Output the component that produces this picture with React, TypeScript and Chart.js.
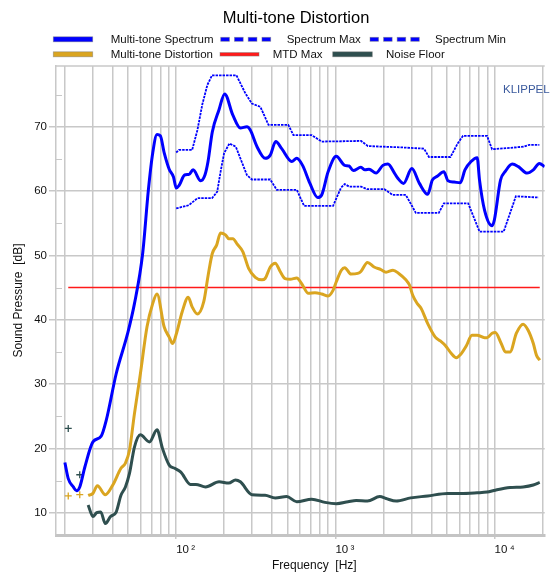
import React, { useEffect, useRef } from 'react';
import { Chart, registerables } from 'chart.js';

Chart.register(...registerables);

const FONT = '"Liberation Sans", Arial, Helvetica, sans-serif';
const GRID = '#c8c8c8';
const BLUE = '#0000ff';
const GOLD = '#daa520';
const RED = '#ff1a1a';
const SLATE = '#2f4f4f';

const chartTitle = 'Multi-tone Distortion';
const xAxisTitle = 'Frequency  [Hz]';
const yAxisTitle = 'Sound Pressure  [dB]';
const brandLabel = 'KLIPPEL';

const xTickValues = [20, 30, 40, 50, 60, 70, 80, 90, 100, 200, 300, 400, 500, 600, 700, 800, 900, 1000, 2000, 3000, 4000, 5000, 6000, 7000, 8000, 9000, 10000, 20000];
const xTickLabels: Record<number, string> = { 100: '10\u2009²', 1000: '10\u2009³', 10000: '10\u2009⁴' };
const yTickValues = [10, 15, 20, 25, 30, 35, 40, 45, 50, 55, 60, 65, 70, 75];
const yMajorStep = 10;

// Multi-tone Spectrum
const spectrumFreq = [20, 21, 22.6, 23.7, 24.8, 26.7, 30, 33.8, 36.4, 42, 49.6, 54.7, 61.6, 66.9, 71.2, 75.8, 79.5, 84.2, 90.4, 96.2, 100, 104.4, 113, 120.5, 127.7, 142.6, 151.6, 158.5, 168.6, 185.6, 201.6, 227, 253, 278, 292, 322, 362, 390, 422, 460, 532, 572, 622, 692, 774, 820, 900, 1013, 1144, 1219, 1294, 1446, 1534, 1627, 1800, 1987, 2137, 2349, 2467, 2680, 3020, 3370, 3800, 4060, 4360, 4800, 5100, 5560, 6090, 6510, 7110, 7770, 8040, 8650, 9640, 9960, 10890, 11700, 12900, 14100, 16000, 17500, 19100, 20600];
const spectrumDb = [17.8, 15.3, 14.0, 13.4, 14.0, 17.1, 21.0, 21.9, 24.4, 31.6, 37.9, 42.5, 50.3, 60.2, 65.9, 68.8, 68.6, 65.9, 63.4, 62.2, 60.5, 60.9, 62.5, 62.6, 63.3, 61.6, 62.5, 64.6, 69.2, 72.6, 75.1, 71.8, 69.8, 70.0, 69.5, 66.9, 65.1, 65.6, 67.7, 66.6, 64.6, 65.1, 64.0, 61.2, 59.0, 59.4, 63.0, 65.4, 64.0, 63.9, 63.2, 63.7, 63.3, 63.4, 62.8, 64.0, 64.2, 62.8, 62.0, 61.2, 63.5, 61.2, 59.5, 61.7, 62.3, 63.0, 61.6, 61.4, 61.3, 63.3, 64.6, 65.2, 61.7, 57.0, 54.6, 55.5, 61.7, 63.1, 64.2, 63.8, 62.8, 63.3, 64.3, 63.8];

// Spectrum Max
const specMaxFreq = [100, 104, 126, 136, 146, 157, 168, 239, 272, 299, 338, 380, 506, 545, 710, 820, 1450, 1600, 2580, 3600, 3870, 5280, 5860, 6330, 8960, 9640, 15200, 16500, 19100];
const specMaxDb = [66.0, 66.4, 66.4, 69.5, 73.5, 76.5, 78.0, 78.0, 75.2, 73.6, 73.1, 70.3, 70.3, 68.7, 68.7, 67.7, 67.8, 67.0, 66.8, 66.6, 65.3, 65.3, 67.4, 68.6, 68.6, 66.5, 66.9, 67.2, 67.2];

// Spectrum Min
const specMinFreq = [100, 120, 136, 168, 181, 190, 200, 216, 237, 278, 299, 390, 428, 572, 636, 967, 1083, 1144, 1220, 1450, 1580, 2030, 2230, 2290, 2770, 3200, 4460, 4800, 6820, 8040, 11400, 13600, 18900];
const specMinDb = [57.3, 57.8, 58.9, 58.9, 59.9, 63.0, 65.9, 67.4, 66.9, 62.5, 61.8, 61.8, 60.2, 60.2, 57.7, 57.7, 60.5, 61.1, 60.7, 60.7, 60.3, 60.3, 59.6, 59.4, 59.4, 56.6, 56.6, 58.1, 58.1, 53.7, 53.7, 59.2, 59.0];

// Multi-tone Distortion
const distFreq = [28, 30, 32, 35.9, 40, 45, 48, 50.9, 54.7, 59.6, 65.6, 71.2, 75.8, 84, 90.4, 95, 100.5, 109, 119, 126, 136, 149, 159, 168.6, 179.5, 190, 204, 214, 227, 241, 262, 285, 314, 346, 362, 390, 419, 450, 483, 520, 572, 614, 677, 744, 820, 900, 968, 1013, 1090, 1144, 1254, 1380, 1446, 1590, 1750, 1930, 2080, 2300, 2500, 2770, 2920, 3060, 3270, 3450, 3800, 4240, 4560, 4900, 5330, 5750, 6110, 6660, 7200, 7760, 8650, 8960, 9640, 10100, 11000, 11700, 12500, 13700, 15100, 16200, 17500, 18300, 19200];
const distDb = [12.7, 13.0, 14.2, 12.8, 14.3, 16.9, 17.7, 19.7, 25.4, 31.6, 38.9, 42.5, 44.0, 38.9, 37.3, 36.3, 37.9, 41.2, 43.5, 42.0, 40.9, 42.8, 47.0, 50.3, 51.6, 53.5, 53.2, 52.6, 52.6, 51.8, 50.6, 48.0, 46.6, 46.2, 46.4, 48.2, 48.8, 47.5, 46.4, 46.3, 46.5, 45.6, 44.1, 44.2, 44.0, 43.7, 44.6, 45.9, 47.7, 48.1, 47.1, 47.2, 47.5, 48.9, 48.2, 47.8, 47.4, 47.7, 47.2, 46.2, 45.4, 43.8, 42.5, 41.8, 39.4, 37.3, 36.7, 36.0, 34.8, 34.1, 34.6, 36.0, 37.6, 37.6, 37.2, 37.2, 37.9, 38.0, 36.3, 35.0, 35.0, 37.9, 39.3, 38.4, 36.3, 34.5, 33.7];
const distMarkFreq = [21, 24.8];
const distMarkDb = [12.6, 12.8];

// MTD Max
const mtdFreq = [21, 19200];
const mtdDb = [45, 45];

// Noise Floor
const noiseFreq = [28, 30, 31.7, 33.6, 35.9, 38.7, 42, 45, 48, 50.9, 54.7, 59.6, 67.9, 75.8, 82, 90.4, 98, 107, 123, 133, 153, 186, 214, 236, 253, 299, 362, 419, 494, 572, 710, 860, 1013, 1200, 1350, 1590, 1900, 2080, 2410, 2970, 3800, 5050, 6110, 7760, 8960, 10100, 12500, 15100, 17500, 19200];
const noiseDb = [11.2, 9.4, 10.0, 10.1, 8.3, 9.4, 10.1, 12.7, 14.0, 16.1, 20.2, 22.1, 21.0, 22.9, 20.0, 17.4, 16.9, 16.3, 14.4, 14.4, 14.0, 14.8, 14.6, 15.1, 14.8, 12.8, 12.7, 12.3, 12.5, 11.7, 12.1, 11.6, 11.4, 11.7, 11.9, 11.8, 12.5, 12.2, 11.8, 12.3, 12.6, 13.0, 13.0, 13.1, 13.2, 13.5, 13.9, 14.0, 14.3, 14.7];
const noiseMarkFreq = [21, 24.8];
const noiseMarkDb = [23.1, 15.9];

const seriesLabels = ['Multi-tone Spectrum', 'Spectrum Max', 'Spectrum Min', 'Multi-tone Distortion', 'MTD Max', 'Noise Floor'];

const zip = (fs: number[], vs: number[]) => fs.map((f, i) => ({ x: f, y: vs[i] }));

// legend layout
const legendSpec = [
  { label: seriesLabels[0], color: BLUE, dash: false, thick: 5, x0: 53.3, x1: 92.7, tx: 110.7, row: 0 },
  { label: seriesLabels[1], color: BLUE, dash: true, thick: 4, x0: 220.7, x1: 270.7, tx: 286.7, row: 0 },
  { label: seriesLabels[2], color: BLUE, dash: true, thick: 4, x0: 370, x1: 419.3, tx: 435, row: 0 },
  { label: seriesLabels[3], color: GOLD, dash: false, thick: 5, x0: 53.3, x1: 92.7, tx: 110.7, row: 1 },
  { label: seriesLabels[4], color: RED, dash: false, thick: 3.5, x0: 220, x1: 259, tx: 272.7, row: 1 },
  { label: seriesLabels[5], color: SLATE, dash: false, thick: 5, x0: 332.7, x1: 372.3, tx: 386, row: 1 },
];
const legendRowY = [39.3, 54.3];

const decorPlugin = {
  id: 'decor',
  afterDraw(chart: any) {
    const ctx: CanvasRenderingContext2D = chart.ctx;
    const ca = chart.chartArea;
    const ys = chart.scales.y;
    ctx.save();
    // top frame line
    ctx.strokeStyle = GRID;
    ctx.lineWidth = 1.5;
    ctx.beginPath();
    ctx.moveTo(ca.left, ca.top);
    ctx.lineTo(ca.right, ca.top);
    ctx.stroke();
    // minor inward ticks on y axis
    ctx.lineWidth = 1;
    for (const v of yTickValues) {
      if (v % yMajorStep !== 0) {
        const py = Math.round(ys.getPixelForValue(v)) + 0.5;
        ctx.beginPath();
        ctx.moveTo(ca.left, py);
        ctx.lineTo(ca.left + 6, py);
        ctx.stroke();
      }
    }
    // title
    ctx.fillStyle = '#000';
    ctx.font = `16.5px ${FONT}`;
    ctx.textAlign = 'center';
    ctx.textBaseline = 'alphabetic';
    ctx.fillText(chartTitle, 296, 23);
    // legend
    ctx.font = `11.5px ${FONT}`;
    ctx.textAlign = 'left';
    ctx.textBaseline = 'middle';
    for (const it of legendSpec) {
      const cy = legendRowY[it.row];
      ctx.fillStyle = it.color;
      ctx.strokeStyle = 'rgba(120,120,120,0.55)';
      ctx.lineWidth = 0.8;
      if (it.dash) {
        const gap = 5;
        const dw = (it.x1 - it.x0 - 3 * gap) / 4;
        for (let k = 0; k < 4; k++) {
          const x = it.x0 + k * (dw + gap);
          ctx.fillRect(x, cy - it.thick / 2, dw, it.thick);
          ctx.strokeRect(x, cy - it.thick / 2, dw, it.thick);
        }
      } else {
        ctx.fillRect(it.x0, cy - it.thick / 2, it.x1 - it.x0, it.thick);
        ctx.strokeRect(it.x0, cy - it.thick / 2, it.x1 - it.x0, it.thick);
      }
      ctx.fillStyle = '#111';
      ctx.fillText(it.label, it.tx, cy + 0.5);
    }
    // x axis title
    ctx.font = `12px ${FONT}`;
    ctx.textAlign = 'left';
    ctx.textBaseline = 'alphabetic';
    ctx.fillStyle = '#111';
    ctx.fillText(xAxisTitle, 272, 569);
    // brand
    ctx.font = `11.5px ${FONT}`;
    ctx.fillStyle = '#3b5a9d';
    ctx.fillText(brandLabel, 503, 93);
    ctx.restore();
  },
};

export default function App() {
  const ref = useRef<HTMLCanvasElement | null>(null);
  useEffect(() => {
    if (!ref.current) return;
    const lineBase = { pointRadius: 0, fill: false, spanGaps: false };
    const chart = new Chart(ref.current, {
      type: 'line',
      data: {
        datasets: [
          { ...lineBase, label: seriesLabels[0], data: zip(spectrumFreq, spectrumDb), borderColor: BLUE, borderWidth: 3, cubicInterpolationMode: 'monotone' },
          { ...lineBase, label: seriesLabels[1], data: zip(specMaxFreq, specMaxDb), borderColor: BLUE, borderWidth: 1.8, borderDash: [2.5, 1], tension: 0 },
          { ...lineBase, label: seriesLabels[2], data: zip(specMinFreq, specMinDb), borderColor: BLUE, borderWidth: 1.8, borderDash: [2.5, 1], tension: 0 },
          { ...lineBase, label: seriesLabels[3], data: zip(distFreq, distDb), borderColor: GOLD, borderWidth: 3, cubicInterpolationMode: 'monotone' },
          { ...lineBase, label: seriesLabels[4], data: zip(mtdFreq, mtdDb), borderColor: RED, borderWidth: 1.5 },
          { ...lineBase, label: seriesLabels[5], data: zip(noiseFreq, noiseDb), borderColor: SLATE, borderWidth: 3, cubicInterpolationMode: 'monotone' },
          { label: seriesLabels[3] + ' points', data: zip(distMarkFreq, distMarkDb), showLine: false, pointStyle: 'cross', pointRadius: 3.5, borderColor: GOLD, borderWidth: 1.3 },
          { label: seriesLabels[5] + ' points', data: zip(noiseMarkFreq, noiseMarkDb), showLine: false, pointStyle: 'cross', pointRadius: 3.5, borderColor: SLATE, borderWidth: 1.3 },
        ] as any,
      },
      options: {
        responsive: false,
        animation: false,
        events: [],
        layout: { padding: { top: 66, right: 2, bottom: 0, left: 0 } },
        plugins: { legend: { display: false }, title: { display: false }, tooltip: { enabled: false } },
        scales: {
          x: {
            type: 'logarithmic',
            min: 17.59,
            max: 20630,
            afterBuildTicks: (scale: any) => {
              scale.ticks = xTickValues.map((v) => ({ value: v }));
            },
            afterFit: (scale: any) => {
              scale.height = 39;
            },
            ticks: {
              autoSkip: false,
              maxRotation: 0,
              minRotation: 0,
              align: 'start',
              padding: 4,
              color: '#111',
              font: { family: FONT, size: 11.5 },
              callback: (v: any) => xTickLabels[Number(v)] ?? '',
            },
            grid: {
              color: GRID,
              lineWidth: 1.5,
              drawTicks: true,
              tickLength: 4,
              tickColor: (c: any) => (c.tick && xTickLabels[c.tick.value] ? GRID : 'rgba(0,0,0,0)'),
            },
            border: { display: true, color: '#c4c4c4', width: 3 },
            title: { display: false },
          },
          y: {
            type: 'linear',
            min: 6.53,
            max: 79.45,
            afterBuildTicks: (scale: any) => {
              scale.ticks = yTickValues.map((v) => ({ value: v }));
            },
            afterFit: (scale: any) => {
              scale.width = 56;
            },
            ticks: {
              autoSkip: false,
              padding: 2,
              color: '#111',
              font: { family: FONT, size: 11.5 },
              callback: (v: any) => (Number(v) % yMajorStep === 0 ? String(v) : ''),
            },
            grid: {
              color: (c: any) => (c.tick && c.tick.value % yMajorStep === 0 ? GRID : 'rgba(0,0,0,0)'),
              lineWidth: 1.5,
              drawTicks: true,
              tickLength: 7,
            },
            border: { display: true, color: GRID, width: 1.5 },
            title: {
              display: true,
              text: yAxisTitle,
              color: '#111',
              font: { family: FONT, size: 12 },
              padding: { top: 11, bottom: 0 },
            },
          },
        },
      } as any,
      plugins: [decorPlugin],
    });
    return () => chart.destroy();
  }, []);
  return (
    <canvas
      ref={ref}
      width={550}
      height={574}
      style={{ position: 'absolute', left: 0, top: 0, width: 550, height: 574, display: 'block' }}
    />
  );
}
